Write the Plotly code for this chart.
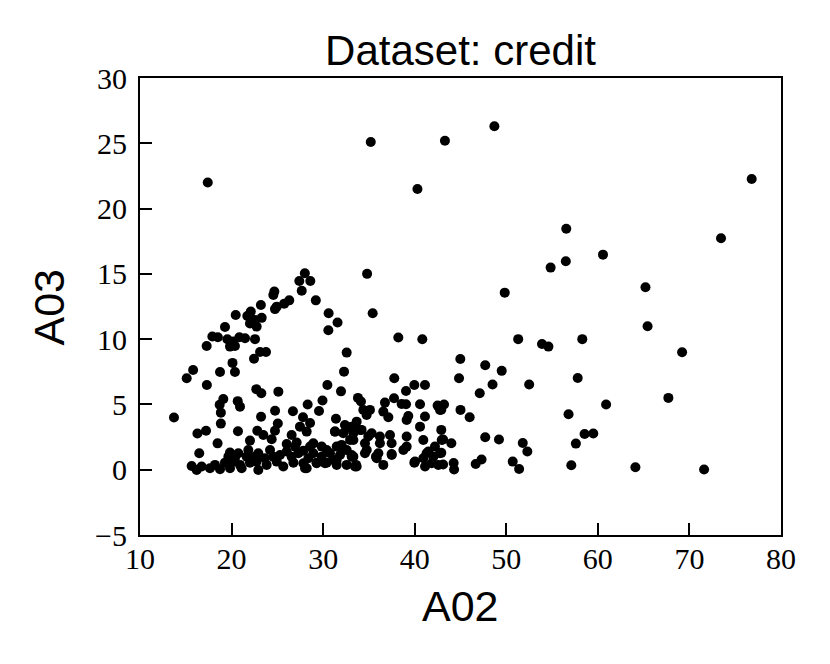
import plotly.graph_objects as go

# A02 / A03 values (approximate)
a02 = [
    17.4, 35.2, 43.3, 48.7, 40.3, 76.8, 73.45, 56.55, 60.56, 56.5, 54.84, 65.2, 49.83, 65.43,
    51.3, 53.9, 54.6, 58.3, 69.2, 44.98, 47.7, 49.5, 44.84, 48.5, 52.5, 57.8, 47.1, 67.7, 60.9,
    43.2, 42.9, 45.0, 46.0, 56.8, 42.9, 43.1, 44.0, 47.7, 49.2, 51.8, 52.3, 58.55, 59.5, 57.6,
    42.9, 43.1, 44.25, 44.3, 46.66, 47.3, 50.7, 51.4, 57.1, 64.1, 71.6,
    28.0, 27.4, 28.6, 27.66, 24.67, 24.56, 29.2, 26.3, 25.75, 24.93, 23.2, 24.74, 22.1, 20.45,
    21.72, 23.29, 22.56, 22.01, 22.74, 19.28, 30.6, 31.57, 30.57, 17.9, 18.5, 19.54, 20.85,
    20.19, 19.83, 22.56, 21.47, 17.28, 20.37, 32.57, 23.76, 23.11, 22.45, 20.1, 20.37, 18.74,
    15.8, 15.1, 17.3, 32.28, 30.46, 31.95, 22.7, 23.25, 25.11, 19.1, 18.7, 20.67, 20.92, 33.8,
    29.93, 28.31, 18.83, 24.75, 26.7, 29.55, 13.71, 23.22, 27.8, 31.4, 28.57, 18.83, 25.05,
    16.27, 17.21, 20.7, 22.81, 23.47, 24.74, 26.56, 27.47, 28.2, 31.3, 32.57, 33.66, 18.47,
    22.01, 24.38, 26.02, 27.11, 28.93, 30.39, 32.02, 33.3, 16.47, 19.83, 20.74, 21.83, 22.92,
    24.2, 26.02, 27.84, 28.93, 30.75, 31.84, 33.3, 15.64, 16.73, 17.64, 18.19, 19.28, 20.19,
    20.92, 22.01, 22.74, 23.83, 24.93, 25.65, 26.75, 27.84, 28.2, 29.29, 30.39, 31.48, 32.57,
    33.48, 16.19, 18.74, 19.83, 21.1, 22.92,
    19.65, 20.37, 21.65, 22.56, 23.65, 24.56, 25.29, 26.56, 27.29, 28.38, 29.84, 31.11, 26.93,
    28.57, 29.84, 31.48, 32.57,
    35.41, 38.21, 40.83, 37.77, 39.05, 39.96, 41.12, 34.13, 36.75, 37.74, 38.57, 39.05, 40.58,
    42.5, 42.76, 34.39, 35.11, 34.75, 36.57, 37.12, 39.3, 41.12, 39.12, 40.58, 32.38, 33.11,
    31.29, 32.2, 33.3, 34.2, 34.93, 36.2, 37.3, 36.2, 37.48, 39.12, 39.12, 38.76, 40.94, 42.21,
    41.3, 42.76, 41.85, 39.96, 40.94, 36.57, 35.77, 37.48, 33.59, 34.57, 33.11, 32.2, 31.47,
    30.2, 29.29, 28.02,
    34.03, 35.3, 42.95, 32.94, 34.57, 34.76, 35.85, 36.03, 33.12, 33.66, 37.49, 40.03, 41.49,
    42.04, 42.58, 41.13, 34.8,
]
a03 = [
    22.0, 25.1, 25.2, 26.3, 21.5, 22.27, 17.73, 18.46, 16.47, 15.96, 15.48, 13.97, 13.56, 10.99,
    10.0, 9.63, 9.43, 10.0, 9.0, 8.48, 8.0, 7.57, 7.0, 6.52, 6.52, 7.03, 5.86, 5.5, 5.0,
    5.0, 4.6, 4.58, 4.02, 4.25, 3.05, 2.31, 2.03, 2.49, 2.31, 2.05, 1.39, 2.74, 2.77, 2.0,
    1.29, 0.40, 0.52, 0.01, 0.44, 0.78, 0.62, 0.06, 0.34, 0.19, 0.01,
    15.05, 14.45, 14.45, 13.7, 13.64, 13.38, 12.97, 12.97, 12.72, 12.49, 12.62, 12.3, 12.11, 11.85,
    11.77, 11.63, 11.47, 11.2, 10.96, 10.93, 11.98, 11.27, 10.68, 10.2, 10.15, 9.99, 10.14,
    9.81, 9.43, 10.0, 10.07, 9.48, 9.48, 8.97, 9.02, 9.02, 8.5, 8.18, 7.48, 7.48,
    7.64, 7.0, 6.49, 7.51, 6.49, 6.0, 6.17, 5.85, 5.98, 5.42, 4.98, 5.25, 4.83, 5.5,
    5.3, 5.0, 4.37, 4.52, 4.48, 4.5, 4.0, 4.05, 4.02, 3.9, 3.58, 3.53, 3.54,
    2.77, 2.99, 2.95, 2.99, 2.66, 2.99, 2.66, 3.3, 2.92, 2.92, 3.17, 3.68, 2.02,
    2.23, 2.33, 1.97, 2.08, 2.02, 1.51, 1.9, 2.28, 1.26, 1.31, 1.26, 1.51, 1.26,
    1.51, 1.39, 1.46, 1.26, 1.26, 1.13, 1.0, 0.29, 0.24, 0.11, 0.37, 0.54, 0.62,
    0.37, 0.54, 0.62, 0.37, 0.62, 0.24, 0.54, 0.49, 0.11, 0.54, 0.54, 0.37, 0.37,
    0.24, -0.02, 0.03, 0.11, 0.11, -0.02,
    1.0, 0.88, 1.0, 1.0, 0.88, 1.0, 1.13, 1.0, 1.26, 0.88, 1.0, 0.75, 1.77,
    1.77, 1.77, 1.77, 1.51,
    11.98, 10.12, 9.99, 7.0, 6.03, 6.49, 6.49, 5.22, 5.14, 5.47, 5.04, 5.01, 5.01,
    4.91, 4.58, 4.58, 4.58, 4.19, 4.45, 4.02, 4.12, 4.07, 3.81, 3.3, 3.43, 3.3,
    2.92, 2.79, 2.79, 3.05, 2.54, 2.54, 2.66, 2.03, 2.03, 2.54, 1.77, 1.51, 2.28, 1.77,
    1.26, 1.26, 0.49, 0.54, 0.88, 0.37, 1.0, 1.21, 0.37, 1.26, 1.13, 1.51, 0.75,
    0.49, 0.49, 0.11,
    3.05, 2.79, 2.28, 2.28, 2.02, 1.51, 0.88, 1.26, 1.0, 0.24, 1.13, 0.62, 1.39,
    1.0, 0.37, 0.24, 15.0,
]

x_ticks = [10, 20, 30, 40, 50, 60, 70, 80]
y_ticks = [-5, 0, 5, 10, 15, 20, 25, 30]

fig = go.Figure(
    go.Scatter(
        x=a02, y=a03, mode="markers",
        marker=dict(color="black", size=10, line=dict(width=0)),
        showlegend=False,
    )
)

axis_common = dict(
    showline=True, mirror=True, linecolor="black", linewidth=2,
    showgrid=False, zeroline=False,
    ticks="inside", ticklen=12, tickwidth=1.5, tickcolor="black",
    tickfont=dict(family="Liberation Serif", size=30, color="black"),
)

label_font = dict(family="Liberation Sans", size=43, color="black")

fig.update_layout(
    width=830, height=664, autosize=False,
    margin=dict(l=132, r=57, t=70, b=137),
    paper_bgcolor="white", plot_bgcolor="white",
    title=dict(
        text="Dataset: credit", x=0.5452, xanchor="center",
        y=1 - 42 / 664, yanchor="middle",
        font=dict(family="Liberation Sans", size=42, color="black"),
    ),
    xaxis=dict(range=[10, 80], tickvals=x_ticks, ticklabelstandoff=-4, **axis_common),
    yaxis=dict(range=[-5, 30], tickvals=y_ticks, ticklabelstandoff=5, **axis_common),
    annotations=[
        dict(text="A02", xref="paper", yref="paper", x=0.5, y=-0.1554,
             xanchor="center", yanchor="middle", showarrow=False, font=label_font),
        dict(text="A03", xref="paper", yref="paper", x=-0.1427, y=0.4989,
             xanchor="center", yanchor="middle", textangle=-90, showarrow=False,
             font=label_font),
    ],
)

fig.write_html("out.html")
